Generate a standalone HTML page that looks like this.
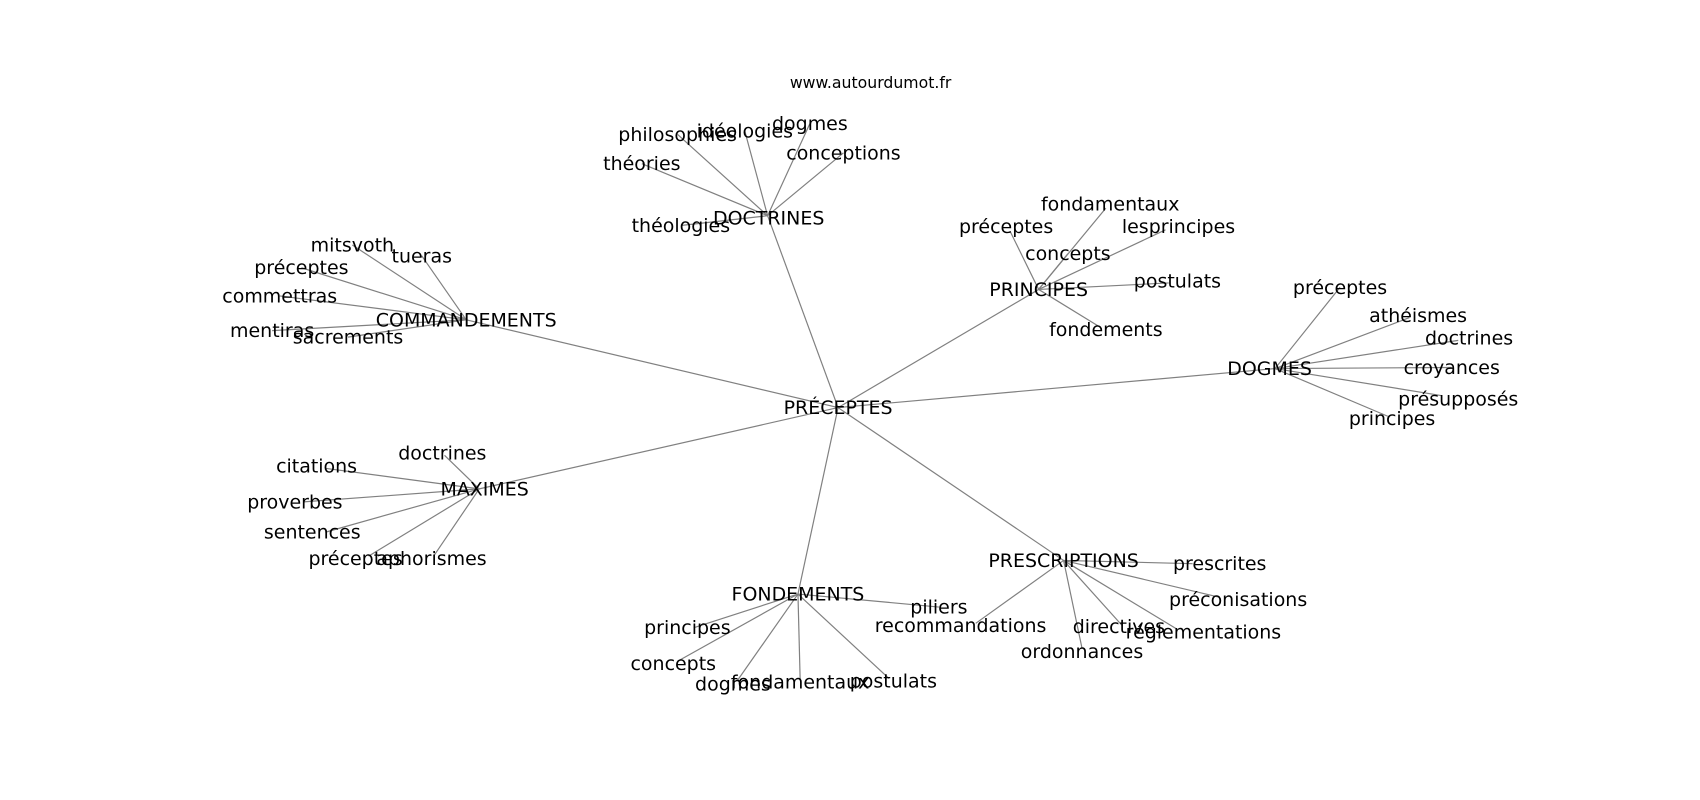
<!DOCTYPE html>
<html><head><meta charset="utf-8"><style>
html,body{margin:0;padding:0;background:#fff;}
svg{display:block;}
text{font-family:"DejaVu Sans","Liberation Sans",sans-serif;font-size:17.5px;fill:#000;text-anchor:middle;}
</style></head><body>
<svg width="1700" height="800" viewBox="0 0 1568 738" preserveAspectRatio="none" xmlns="http://www.w3.org/2000/svg">
<rect width="1568" height="738" fill="#fff"/>
<g stroke="#808080" stroke-width="1.1" fill="none">
<line x1="773" y1="376" x2="708" y2="199"/>
<line x1="773" y1="376" x2="430" y2="295"/>
<line x1="773" y1="376" x2="958" y2="267"/>
<line x1="773" y1="376" x2="1176" y2="340"/>
<line x1="773" y1="376" x2="442" y2="451"/>
<line x1="773" y1="376" x2="736" y2="548"/>
<line x1="773" y1="376" x2="981" y2="517"/>
<!-- DOCTRINES -->
<line x1="708" y1="199" x2="625" y2="124"/>
<line x1="708" y1="199" x2="687" y2="121"/>
<line x1="708" y1="199" x2="747" y2="114"/>
<line x1="708" y1="199" x2="778" y2="141"/>
<line x1="708" y1="199" x2="592" y2="151"/>
<line x1="708" y1="199" x2="628" y2="208"/>
<!-- COMMANDEMENTS -->
<line x1="430" y1="295" x2="325" y2="226"/>
<line x1="430" y1="295" x2="389" y2="236"/>
<line x1="430" y1="295" x2="278" y2="247"/>
<line x1="430" y1="295" x2="258" y2="273"/>
<line x1="430" y1="295" x2="251" y2="305"/>
<line x1="430" y1="295" x2="321" y2="311"/>
<!-- PRINCIPES -->
<line x1="958" y1="267" x2="1020" y2="192"/>
<line x1="958" y1="267" x2="932" y2="214"/>
<line x1="958" y1="267" x2="1075" y2="212"/>
<line x1="958" y1="267" x2="985" y2="234"/>
<line x1="958" y1="267" x2="1078" y2="261"/>
<line x1="958" y1="267" x2="1015" y2="302"/>
<!-- DOGMES -->
<line x1="1176" y1="340" x2="1236" y2="265"/>
<line x1="1176" y1="340" x2="1300" y2="293"/>
<line x1="1176" y1="340" x2="1345" y2="314"/>
<line x1="1176" y1="340" x2="1339" y2="339"/>
<line x1="1176" y1="340" x2="1330" y2="365"/>
<line x1="1176" y1="340" x2="1280" y2="384"/>
<!-- MAXIMES -->
<line x1="442" y1="451" x2="410" y2="420"/>
<line x1="442" y1="451" x2="300" y2="432"/>
<line x1="442" y1="451" x2="280" y2="463"/>
<line x1="442" y1="451" x2="300" y2="491"/>
<line x1="442" y1="451" x2="340" y2="513"/>
<line x1="442" y1="451" x2="400" y2="513"/>
<!-- FONDEMENTS -->
<line x1="736" y1="548" x2="866" y2="560"/>
<line x1="736" y1="548" x2="640" y2="579"/>
<line x1="736" y1="548" x2="625" y2="610"/>
<line x1="736" y1="548" x2="680" y2="628"/>
<line x1="736" y1="548" x2="738" y2="626"/>
<line x1="736" y1="548" x2="820" y2="626"/>
<!-- PRESCRIPTIONS -->
<line x1="981" y1="517" x2="1100" y2="520"/>
<line x1="981" y1="517" x2="900" y2="575"/>
<line x1="981" y1="517" x2="1125" y2="551"/>
<line x1="981" y1="517" x2="1035" y2="577"/>
<line x1="981" y1="517" x2="1085" y2="580"/>
<line x1="981" y1="517" x2="998" y2="598"/>
</g>
<g>
<text x="803" y="81" style="font-size:14.5px">www.autourdumot.fr</text>
<text x="773" y="382">PRÉCEPTES</text>
<text x="709" y="207">DOCTRINES</text>
<text x="430" y="301">COMMANDEMENTS</text>
<text x="958" y="273">PRINCIPES</text>
<text x="1171" y="346">DOGMES</text>
<text x="447" y="457">MAXIMES</text>
<text x="736" y="554">FONDEMENTS</text>
<text x="981" y="523">PRESCRIPTIONS</text>

<text x="625" y="130">philosophies</text>
<text x="687" y="127">idéologies</text>
<text x="747" y="120">dogmes</text>
<text x="778" y="147">conceptions</text>
<text x="592" y="157">théories</text>
<text x="628" y="214">théologies</text>

<text x="325" y="232">mitsvoth</text>
<text x="389" y="242">tueras</text>
<text x="278" y="253">préceptes</text>
<text x="258" y="279">commettras</text>
<text x="251" y="311">mentiras</text>
<text x="321" y="317">sacrements</text>

<text x="1024" y="194">fondamentaux</text>
<text x="928" y="215">préceptes</text>
<text x="1087" y="215">lesprincipes</text>
<text x="985" y="240">concepts</text>
<text x="1086" y="265">postulats</text>
<text x="1020" y="310">fondements</text>

<text x="1236" y="271">préceptes</text>
<text x="1308" y="297">athéismes</text>
<text x="1355" y="318">doctrines</text>
<text x="1339" y="345">croyances</text>
<text x="1345" y="374">présupposés</text>
<text x="1284" y="392">principes</text>

<text x="408" y="424">doctrines</text>
<text x="292" y="436">citations</text>
<text x="272" y="469">proverbes</text>
<text x="288" y="497">sentences</text>
<text x="328" y="521">préceptes</text>
<text x="398" y="521">aphorismes</text>

<text x="866" y="566">piliers</text>
<text x="634" y="585">principes</text>
<text x="621" y="618">concepts</text>
<text x="676" y="637">dogmes</text>
<text x="738" y="635">fondamentaux</text>
<text x="824" y="634">postulats</text>

<text x="1125" y="526">prescrites</text>
<text x="886" y="583">recommandations</text>
<text x="1142" y="559">préconisations</text>
<text x="1032" y="584">directives</text>
<text x="1110" y="589">réglementations</text>
<text x="998" y="607">ordonnances</text>
</g>
</svg>
</body></html>
